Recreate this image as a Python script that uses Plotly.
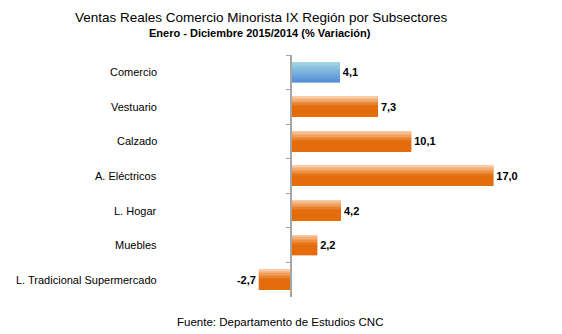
import plotly.graph_objects as go

categories = ["Comercio", "Vestuario", "Calzado", "A. Eléctricos", "L. Hogar", "Muebles",
              "L. Tradicional Supermercado"]
values = [4.1, 7.3, 10.1, 17.0, 4.2, 2.2, -2.7]
title = "Ventas Reales Comercio Minorista IX Región por Subsectores"
subtitle = "Enero - Diciembre 2015/2014 (% Variación)"
source = "Fuente: Departamento de Estudios CNC"

W, H = 562, 334
ML, MR, MT, MB = 0, 0, 55, 37
zero_px = 291
px_per_unit = 11.9
dom_l, dom_r = 250, 545
x_range = [(dom_l - zero_px) / px_per_unit, (dom_r - zero_px) / px_per_unit]
BAR_W = 0.58


def hex2rgb(h):
    h = h.lstrip("#")
    return tuple(int(h[i:i + 2], 16) for i in (0, 2, 4))


def mix(c1, c2, t):
    a, b = hex2rgb(c1), hex2rgb(c2)
    return "rgb(%d,%d,%d)" % tuple(round(a[i] + (b[i] - a[i]) * t) for i in range(3))


def strip_color(idx, t):
    if idx == 0:  # Comercio in blue
        return mix("#A3D6E2", "#5590D8", t)
    tt = min(t / 0.5, 1.0)
    return mix("#F9CBA6", "#E46C0A", tt)


fig = go.Figure()
# base bars with labels
fig.add_trace(go.Bar(
    y=categories, x=values, orientation="h", width=BAR_W,
    marker=dict(color=[strip_color(i, 1.0) for i in range(len(values))], line=dict(width=0)),
    text=values, texttemplate="%{x:.1f}", textposition="outside",
    textfont=dict(family="Arial", size=11, color="black", weight="bold"),
    cliponaxis=False, hoverinfo="skip", showlegend=False,
))
# gradient strips (top of bar lighter)
N = 14
for k in range(N):
    t = k / (N - 1)
    fig.add_trace(go.Bar(
        y=categories, x=values, orientation="h",
        width=BAR_W / N + 0.002, offset=-BAR_W / 2 + k * BAR_W / N,
        marker=dict(color=[strip_color(i, t) for i in range(len(values))], line=dict(width=0)),
        hoverinfo="skip", showlegend=False,
    ))

annotations = []
for c in categories:
    annotations.append(dict(x=159 / W, xref="paper", y=c, yref="y", text=c, showarrow=False,
                            xanchor="right", yanchor="middle",
                            font=dict(family="Arial", size=11, color="black")))

ph = H - MT - MB


def py(px):
    return (H - MB - px) / ph


annotations += [
    dict(x=261 / W, xref="paper", y=py(18), yref="paper", text=title, showarrow=False,
         xanchor="center", yanchor="middle", font=dict(family="Arial", size=13.5, color="black")),
    dict(x=260 / W, xref="paper", y=py(33), yref="paper", text="<b>" + subtitle + "</b>", showarrow=False,
         xanchor="center", yanchor="middle", font=dict(family="Arial", size=11, color="black")),
    dict(x=280 / W, xref="paper", y=py(322), yref="paper", text=source, showarrow=False,
         xanchor="center", yanchor="middle", font=dict(family="Arial", size=11.5, color="black")),
]

fig.update_layout(
    width=W, height=H, margin=dict(l=ML, r=MR, t=MT, b=MB),
    paper_bgcolor="white", plot_bgcolor="white",
    barmode="overlay", separators=",.",
    xaxis=dict(domain=[dom_l / W, dom_r / W], range=x_range, showgrid=False, zeroline=False,
               showticklabels=False, showline=False, ticks=""),
    yaxis=dict(anchor="free", position=zero_px / W, autorange="reversed", type="category",
               showgrid=False, zeroline=False, showticklabels=False, showline=True,
               linecolor="#A6A6A6", linewidth=1.5, ticks="outside", tickson="boundaries",
               ticklen=4, tickcolor="#A6A6A6", tickwidth=1),
    annotations=annotations,
)

fig.write_html("out.html")
